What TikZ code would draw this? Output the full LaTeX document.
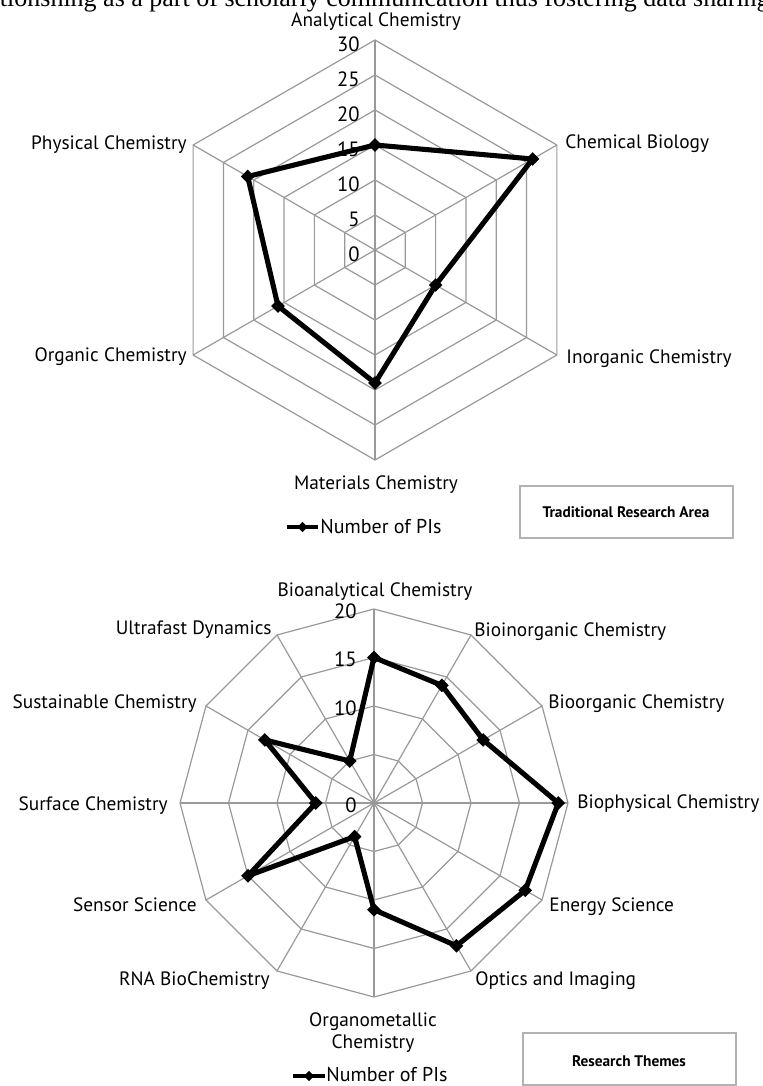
\documentclass[tikz,border=0pt]{standalone}
\usepackage{fontspec}
\setmainfont{PT Sans}
\newfontfamily\bodyserif{Liberation Serif}
\usetikzlibrary{shapes.geometric}

\tikzset{
  gridline/.style={draw=black!40, line width=0.9pt},
  series/.style={line width=3.8pt, line join=round},
  pimark/.style={diamond, fill=black, inner sep=0pt, minimum size=10.5pt},
  cat/.style={font=\fontsize{14.5}{17}\selectfont, inner sep=0pt},
  tick/.style={font=\fontsize{15.5}{17}\selectfont, inner sep=0pt, anchor=base east},
  legbox/.style={draw=black!30, line width=0.9pt},
  boxtext/.style={font=\bfseries\fontsize{11.5}{13}\selectfont, inner sep=0pt, anchor=base}
}

\begin{document}
\begin{tikzpicture}[x=0.75pt,y=0.75pt,semithick]
\useasboundingbox (0,0) rectangle (763,1086);
\node[font=\bodyserif\fontsize{19.5}{22}\selectfont, inner sep=0pt, anchor=base west] (txt) at (-12,1079) {ationshing as a part of scholarly communication thus fostering data sharing};

% traditional research areas
\begin{scope}[shift={(375,836)}]
\foreach \r in {35,70,...,210}
  \draw[gridline] (90:\r) -- (30:\r) -- (-30:\r) -- (-90:\r) -- (-150:\r) -- (150:\r) -- cycle;
\foreach \a in {90,30,...,-210}
  \draw[gridline] (0,0) -- (\a:210);
\foreach \v in {0,5,...,30}
  \node[tick] (ta\v) at (-15,7*\v-11.5) {\v};
\foreach \a/\v [count=\i] in {90/15,30/26,-30/10,-90/19,-150/16,150/21}
  \coordinate (d\i) at (\a:7*\v);
\end{scope}
\draw[series] (d1) -- (d2) -- (d3) -- (d4) -- (d5) -- (d6) -- cycle;
\foreach \i in {1,...,6}
  \node[pimark] (md\i) at (d\i) {};

\node[cat, anchor=base] (ana) at (376,1059) {Analytical Chemistry};
\node[cat, anchor=base west] (chb) at (565,937.5) {Chemical Biology};
\node[cat, anchor=base west] (ino) at (566,722) {Inorganic Chemistry};
\node[cat, anchor=base] (mat) at (376,596.5) {Materials Chemistry};
\node[cat, anchor=base east] (org) at (187,724) {Organic Chemistry};
\node[cat, anchor=base east] (phy) at (187,936.5) {Physical Chemistry};

\coordinate (la1) at (287,559);
\coordinate (la2) at (318,559);
\draw[series, line width=3pt] (la1) -- (la2);
\node[pimark, minimum size=8pt] (lma) at (302.5,559) {};
\node[cat, anchor=base west, font=\fontsize{15}{17}\selectfont] (lta) at (320,552) {Number of PIs};
\draw[legbox] (520,600) rectangle (733,548);
\node[boxtext] (bta) at (626,568) {Traditional Research Area};

% research themes
\begin{scope}[shift={(374,283)}]
\foreach \r in {48.5,97,145.5,194}
  \draw[gridline] (0:\r) \foreach \a in {30,60,...,330} { -- (\a:\r) } -- cycle;
\foreach \a in {0,30,...,330}
  \draw[gridline] (0,0) -- (\a:194);
\foreach \v in {0,10,15,20}
  \node[tick] (tb\v) at (-17,9.7*\v-9.5) {\v};
\foreach \a/\v [count=\i] in {90/15,60/14,30/13,0/19,-30/18,-60/17,-90/11,-120/4,-150/15,180/6,150/13,120/5}
  \coordinate (e\i) at (\a:9.7*\v);
\end{scope}
\draw[series] (e1) -- (e2) -- (e3) -- (e4) -- (e5) -- (e6) -- (e7) -- (e8) -- (e9) -- (e10) -- (e11) -- (e12) -- cycle;
\foreach \i in {1,...,12}
  \node[pimark] (me\i) at (e\i) {};

\node[cat, anchor=base] (bac) at (375,489.5) {Bioanalytical Chemistry};
\node[cat, anchor=base west] (bic) at (474,449) {Bioinorganic Chemistry};
\node[cat, anchor=base west] (boc) at (548,377) {Bioorganic Chemistry};
\node[cat, anchor=base west] (bpc) at (577,277) {Biophysical Chemistry};
\node[cat, anchor=base west] (ens) at (549,174) {Energy Science};
\node[cat, anchor=base west] (opi) at (475,100) {Optics and Imaging};
\node[cat, anchor=base, align=center] (omc) at (373,37) {Organometallic\\Chemistry};
\node[cat, anchor=base east] (rna) at (270,100) {RNA BioChemistry};
\node[cat, anchor=base east] (sen) at (197,174) {Sensor Science};
\node[cat, anchor=base east] (sur) at (168,275) {Surface Chemistry};
\node[cat, anchor=base east] (sus) at (197,377) {Sustainable Chemistry};
\node[cat, anchor=base east] (ufd) at (272,451) {Ultrafast Dynamics};

\coordinate (lb1) at (293,10);
\coordinate (lb2) at (325,10);
\draw[series, line width=3pt] (lb1) -- (lb2);
\node[pimark, minimum size=8pt] (lmb) at (309,10) {};
\node[cat, anchor=base west, font=\fontsize{15}{17}\selectfont] (ltb) at (326,4) {Number of PIs};
\draw[legbox] (523,53) rectangle (736,1);
\node[boxtext] (btb) at (629,20) {Research Themes};
\end{tikzpicture}
\end{document}
